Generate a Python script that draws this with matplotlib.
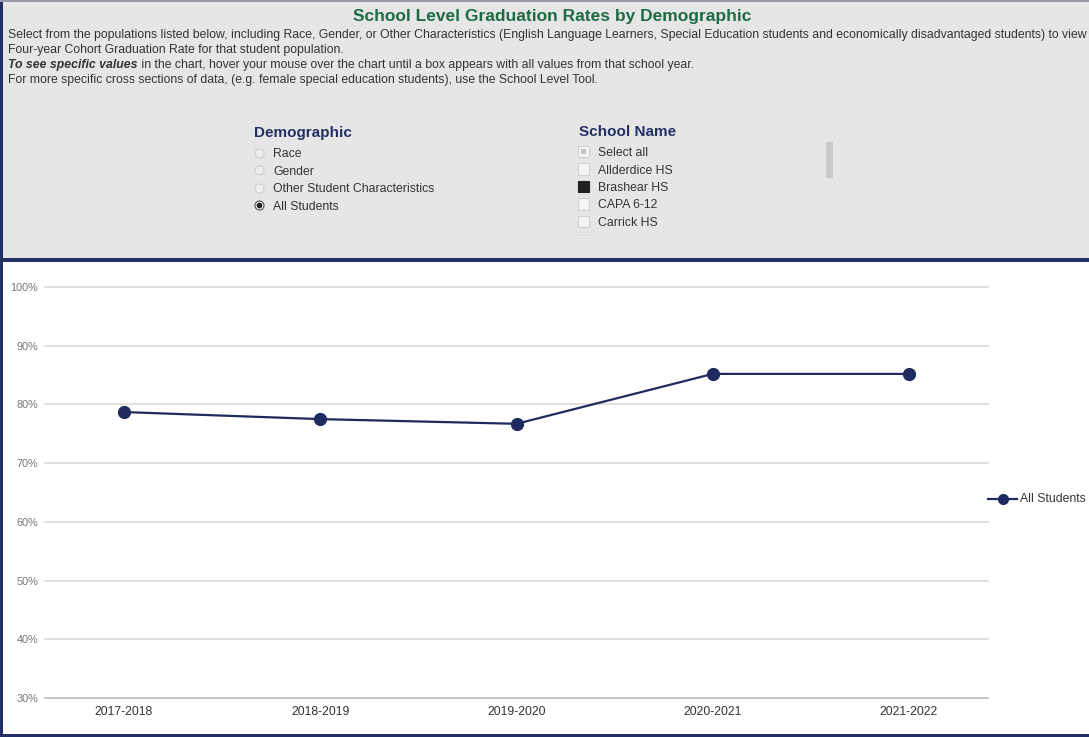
import matplotlib
matplotlib.use("Agg")
import matplotlib.pyplot as plt
from matplotlib.patches import Rectangle
from matplotlib.lines import Line2D

plt.rcParams['font.family'] = ['Liberation Sans', 'DejaVu Sans']

years = ["2017-2018", "2018-2019", "2019-2020", "2020-2021", "2021-2022"]
all_students = [78.7, 77.5, 76.7, 85.2, 85.2]
y_ticks = [30, 40, 50, 60, 70, 80, 90, 100]
series_name = "All Students"
demographics = ["Race", "Gender", "Other Student Characteristics", "All Students"]
schools = ["Select all", "Allderdice HS", "Brashear HS", "CAPA 6-12", "Carrick HS"]

W, H = 1089, 737
fig = plt.figure(figsize=(W / 100, H / 100), dpi=100)
fig.patch.set_facecolor("white")

NAVY = "#233066"
LINE = "#1f2a5e"
FS = 8.8

def fx(px):
    return px / W

def fy(py):
    return 1 - py / H

# top panel
fig.add_artist(Rectangle((0, fy(259)), 1, 259 / H, transform=fig.transFigure,
                         facecolor="#e6e6e6", edgecolor="none", zorder=0))
fig.add_artist(Rectangle((0, fy(262)), 1, 4 / H, transform=fig.transFigure,
                         facecolor=NAVY, edgecolor="none", zorder=1))
fig.add_artist(Rectangle((0, 0), 3 / W, 1, transform=fig.transFigure,
                         facecolor=NAVY, edgecolor="none", zorder=1))
fig.add_artist(Rectangle((0, 0), 1, 3 / H, transform=fig.transFigure,
                         facecolor=NAVY, edgecolor="none", zorder=1))
fig.add_artist(Rectangle((0, fy(2)), 1, 2 / H, transform=fig.transFigure,
                         facecolor="#9a9aa8", edgecolor="none", zorder=1))

fig.text(fx(552), fy(16), "School Level Graduation Rates by Demographic",
         ha="center", va="center", fontsize=12.5, fontweight="bold", color="#1c6b45")
body = [
    "Select from the populations listed below, including Race, Gender, or Other Characteristics (English Language Learners, Special Education students and economically disadvantaged students) to view",
    "Four-year Cohort Graduation Rate for that student population.",
]
ys = [35, 50, 65, 80]
fig.text(fx(8), fy(ys[0]), body[0], ha="left", va="center", fontsize=FS, color="#333333")
fig.text(fx(8), fy(ys[1]), body[1], ha="left", va="center", fontsize=FS, color="#333333")
t1 = fig.text(fx(8), fy(ys[2]), "To see specific values", ha="left", va="center",
              fontsize=FS, color="#333333", fontweight="bold", fontstyle="italic")
fig.canvas.draw()
bb = t1.get_window_extent()
fig.text(bb.x1 / W, fy(ys[2]),
         " in the chart, hover your mouse over the chart until a box appears with all values from that school year.",
         ha="left", va="center", fontsize=FS, color="#333333")
fig.text(fx(8), fy(ys[3]),
         "For more specific cross sections of data, (e.g. female special education students), use the School Level Tool.",
         ha="left", va="center", fontsize=FS, color="#333333")

# Demographic filter
fig.text(fx(254), fy(133), "Demographic", ha="left", va="center", fontsize=11,
         fontweight="bold", color=NAVY)
for i, d in enumerate(demographics):
    yy = 152.5 + i * 17.6
    fig.text(fx(273), fy(yy + 1.5), d, ha="left", va="center", fontsize=FS, color="#333333")
    fig.add_artist(Line2D([fx(259)], [fy(yy)], marker="o", markersize=6.5,
                          markerfacecolor="#eeeeee", markeredgecolor="#d0d0d0",
                          markeredgewidth=0.8, transform=fig.transFigure))
    if d == "All Students":
        fig.add_artist(Line2D([fx(259)], [fy(yy)], marker="o", markersize=6.5,
                              markerfacecolor="white", markeredgecolor="#555555",
                              markeredgewidth=0.8, transform=fig.transFigure))
        fig.add_artist(Line2D([fx(259)], [fy(yy)], marker="o", markersize=3.2,
                              markerfacecolor="#222222", markeredgecolor="#222222",
                              transform=fig.transFigure))

# School filter
fig.text(fx(579), fy(132), "School Name", ha="left", va="center", fontsize=11,
         fontweight="bold", color=NAVY)
for i, s in enumerate(schools):
    yy = 151.5 + i * 17.5
    fig.text(fx(598), fy(yy + 1.5), s, ha="left", va="center", fontsize=FS, color="#333333")
    fc, ec = "#f4f4f4", "#d0d0d0"
    if s == "Brashear HS":
        fc, ec = "#222222", "#222222"
    fig.add_artist(Rectangle((fx(578), fy(yy + 5.5)), 11 / W, 11 / H, transform=fig.transFigure,
                             facecolor=fc, edgecolor=ec, linewidth=0.8))
    if s == "Select all":
        fig.add_artist(Rectangle((fx(581), fy(yy + 2.5)), 5 / W, 5 / H, transform=fig.transFigure,
                                 facecolor="#c4c4c4", edgecolor="none"))
fig.add_artist(Rectangle((fx(578), fy(234)), 11 / W, 2 / H, transform=fig.transFigure,
                         facecolor="#f4f4f4", edgecolor="#d8d8d8", linewidth=0.6))
# scrollbar
fig.add_artist(Rectangle((fx(826), fy(178)), 7 / W, 36 / H, transform=fig.transFigure,
                         facecolor="#c9c9c9", edgecolor="none"))

# chart
ax = fig.add_axes([fx(45), fy(698), fx(988) - fx(45), fy(287) - fy(698)])
ax.set_facecolor("white")
x = list(range(len(years)))
ax.plot(x, all_students, color=LINE, linewidth=1.6, marker="o", markersize=8.5,
        markerfacecolor=LINE, markeredgecolor=LINE, zorder=3, clip_on=False)
ax.set_ylim(30, 100)
ax.set_xlim(-0.4025, 4.4025)
ax.set_yticks(y_ticks)
ax.set_yticklabels([f"{v}%" for v in y_ticks])
ax.set_xticks(x)
ax.set_xticklabels(years)
for v in y_ticks:
    ax.axhline(v, color="#b5b5b5" if v == 30 else "#d6d6d6", linewidth=1.1, zorder=1,
               clip_on=False)
for sp in ax.spines.values():
    sp.set_visible(False)
ax.tick_params(axis="y", length=0, pad=5, labelsize=7.8, labelcolor="#777777")
ax.tick_params(axis="x", length=0, pad=6, labelsize=FS, labelcolor="#333333")

# legend
fig.add_artist(Line2D([fx(988), fx(1017)], [fy(499), fy(499)], color=LINE, linewidth=1.6,
                      transform=fig.transFigure))
fig.add_artist(Line2D([fx(1003)], [fy(499)], marker="o", markersize=7, color=LINE,
                      transform=fig.transFigure))
fig.text(fx(1020), fy(499), series_name, ha="left", va="center", fontsize=FS, color="#333333")

fig.savefig("out.png", dpi=100, facecolor="white")
